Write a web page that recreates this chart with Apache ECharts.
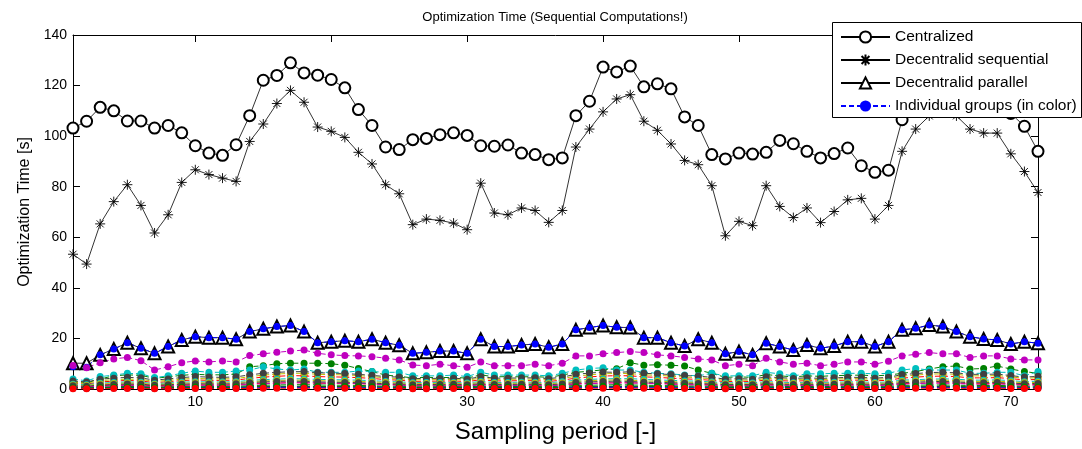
<!DOCTYPE html>
<html>
<head>
<meta charset="utf-8">
<script src="https://cdn.jsdelivr.net/npm/echarts@6/dist/echarts.min.js"></script>
<style>
  html, body { margin: 0; padding: 0; background: #fff; }
  #chart { width: 1082px; height: 449px; }
</style>
</head>
<body>
<div id="chart"></div>
<script>
// sampling periods (x axis)
const periods = [1, 2, 3, 4, 5, 6, 7, 8, 9, 10, 11, 12, 13, 14, 15, 16, 17, 18, 19, 20, 21, 22, 23, 24, 25, 26, 27, 28, 29, 30, 31, 32, 33, 34, 35, 36,
  37, 38, 39, 40, 41, 42, 43, 44, 45, 46, 47, 48, 49, 50, 51, 52, 53, 54, 55, 56, 57, 58, 59, 60, 61, 62, 63, 64, 65, 66, 67, 68, 69, 70, 71, 72]
const xTicks = [10, 20, 30, 40, 50, 60, 70]

const centralized = [103.2, 105.9, 111.4, 110.0, 106.0, 106.0, 103.2, 104.2, 101.3, 96.2, 93.3, 92.4, 96.6, 108.1, 122.1, 124.0, 129.0, 125.0, 124.1, 122.4, 119.1, 110.5, 104.2, 95.7, 94.7,
  98.6, 99.1, 100.6, 101.3, 100.3, 96.2, 96.0, 96.5, 93.3, 92.7, 90.7, 91.4, 108.1, 113.8, 127.3, 125.4, 127.7, 119.5, 120.7, 118.7, 107.6, 104.2, 92.7, 91.0,
  93.3, 92.9, 93.6, 98.3, 97.0, 94.0, 91.4, 93.1, 95.3, 88.3, 85.7, 86.5, 106.5, 116.0, 121.0, 126.0, 124.0, 121.0, 117.0, 116.0, 109.0, 103.9, 94.0]

const sequential = [53.3, 49.4, 65.3, 74.1, 80.8, 72.6, 61.7, 68.9, 81.7, 86.7, 84.8, 83.4, 82.1, 97.9, 104.8, 112.9, 118.1, 113.4, 103.6, 101.9, 99.5, 93.6, 89.0, 80.8, 77.2,
  65.0, 67.2, 66.7, 65.6, 63.0, 81.4, 69.6, 68.9, 71.6, 70.6, 65.9, 70.6, 95.7, 102.8, 109.6, 114.7, 116.4, 105.9, 102.3, 96.9, 90.4, 88.7, 80.4, 60.6,
  66.3, 64.6, 80.4, 72.2, 67.8, 71.6, 65.8, 70.2, 74.8, 75.4, 67.2, 72.6, 94.0, 102.8, 108.0, 110.0, 108.0, 102.8, 101.2, 101.2, 93.0, 86.0, 77.7]

const parallel = [10.2, 10.2, 13.5, 15.8, 18.3, 16.1, 14.1, 16.8, 19.4, 20.7, 20.3, 20.3, 19.7, 22.7, 23.8, 24.7, 25.1, 22.7, 18.3, 18.7, 19.1, 18.7, 19.7, 18.3, 17.3,
  14.1, 14.5, 15.0, 15.0, 14.1, 19.7, 16.8, 16.8, 17.4, 17.8, 16.5, 17.8, 23.4, 24.3, 25.1, 24.4, 24.3, 20.3, 20.3, 18.3, 17.0, 19.7, 18.3, 13.9,
  14.8, 13.5, 18.1, 16.8, 15.4, 17.4, 16.1, 17.0, 18.7, 18.7, 16.8, 18.7, 23.4, 24.0, 25.3, 24.7, 22.7, 20.7, 19.8, 19.4, 17.8, 18.7, 18.1]

// individual groups, drawn in the MATLAB colour order b g r c m y k
const blueA = [8.8, 8.6, 13.5, 15.8, 18.3, 16.1, 14.1, 16.8, 19.4, 20.7, 20.3, 20.3, 19.7, 22.7, 23.8, 24.7, 25.1, 22.7, 18.3, 18.7, 19.1, 18.7, 19.7, 18.3, 17.3,
  14.1, 14.5, 15.0, 15.0, 14.1, 19.7, 16.8, 16.8, 17.4, 17.8, 16.5, 17.8, 23.4, 24.3, 25.1, 24.4, 24.3, 20.3, 20.3, 18.3, 17.0, 19.7, 18.3, 13.9,
  14.8, 13.5, 18.1, 16.8, 15.4, 17.4, 16.1, 17.0, 18.7, 18.7, 16.8, 18.7, 23.4, 24.0, 25.3, 24.7, 22.7, 20.7, 19.8, 19.4, 17.8, 18.7, 18.1]
const greenA = [2.8, 2.4, 4.0, 5.2, 5.6, 5.4, 4.2, 4.8, 5.4, 5.8, 5.6, 5.6, 5.9,
  8.8, 9.2, 10.0, 10.2, 10.2, 10.2, 10.0, 9.4, 8.1, 6.9,
  5.5, 5.0, 4.4, 4.6, 4.5, 4.6, 4.3, 5.6, 4.8, 4.9, 4.8, 4.9, 4.6, 5.5,
  6.6, 7.0, 7.6, 8.0, 10.4, 9.4, 9.6, 9.4, 9.1, 7.5,
  6.2, 4.6, 4.8, 4.6, 5.7, 5.2, 4.8, 5.2, 5.0, 5.3, 5.4, 5.5, 5.2, 5.5,
  6.2, 6.9, 7.9, 8.8, 9.1, 7.9, 8.1, 9.1, 7.9, 6.9, 6.2]
const redA = [2.2, 1.9, 2.8, 3.1, 3.4, 3.2, 2.5, 2.9, 3.3, 3.6, 3.4, 3.4, 3.5,
  4.2, 4.7, 5.0, 5.3, 5.2, 4.9, 4.8, 4.7, 4.5, 4.2,
  3.7, 3.5, 3.0, 3.1, 3.1, 3.2, 2.9, 3.7, 3.2, 3.2, 3.3, 3.3, 3.0, 3.5,
  4.3, 4.8, 5.1, 5.3, 5.2, 4.8, 4.6, 4.3, 4.0, 3.8,
  3.4, 2.9, 3.1, 2.9, 3.6, 3.3, 3.1, 3.3, 3.1, 3.3, 3.5, 3.5, 3.2, 3.5,
  4.3, 4.7, 5.0, 5.1, 4.9, 4.4, 4.4, 4.5, 4.1, 3.6, 3.8]
const cyanA = [4.0, 3.2, 4.9, 5.5, 6.2, 6.0, 4.5, 5.2, 6.2, 7.1, 6.6, 6.6, 7.1, 7.5, 8.8, 7.9, 7.5, 7.9, 6.6, 6.6, 6.6, 7.1, 6.9, 6.6, 6.6,
  5.2, 5.2, 5.2, 5.5, 4.9, 6.6, 5.5, 5.5, 5.5, 5.5, 5.2, 6.2, 7.5, 8.1, 8.4, 7.5, 7.5, 6.6, 6.2, 6.0, 5.5, 5.2, 6.2, 5.2,
  5.2, 5.2, 6.6, 6.0, 5.2, 6.0, 6.0, 6.2, 6.2, 6.2, 6.0, 6.2, 7.5, 8.1, 7.5, 7.5, 7.5, 6.2, 6.2, 6.6, 6.6, 5.2, 6.9]
const magentaA = [9.3, 8.4, 10.4, 11.9, 12.5, 11.2, 7.5, 8.8, 10.4, 11.1, 10.7, 11.1, 10.7, 13.2, 13.9, 14.5, 15.0, 15.4, 14.1, 13.5, 13.2, 13.1, 12.8, 12.2, 11.5,
  9.5, 9.2, 9.8, 9.2, 8.6, 10.7, 9.2, 9.2, 9.2, 9.8, 9.2, 10.2, 13.1, 13.1, 13.9, 14.4, 14.8, 14.4, 13.5, 13.1, 12.5, 11.9, 11.5, 9.2,
  9.8, 9.2, 12.2, 10.7, 9.8, 10.2, 9.2, 9.8, 10.7, 10.7, 9.8, 11.0, 13.1, 13.7, 14.4, 13.9, 13.9, 12.5, 13.1, 13.1, 11.9, 11.5, 11.5]
const yellowA = [2.6, 2.3, 3.3, 3.7, 3.9, 3.8, 3.0, 3.4, 3.9, 4.2, 4.0, 4.0, 4.1,
  4.9, 5.5, 5.9, 6.2, 6.2, 5.8, 5.7, 5.6, 5.3, 4.9,
  4.4, 4.1, 3.6, 3.7, 3.7, 3.8, 3.4, 4.4, 3.8, 3.8, 3.9, 3.9, 3.6, 4.1,
  5.1, 5.6, 6.0, 6.2, 6.1, 5.6, 5.4, 5.1, 4.7, 4.5,
  4.0, 3.4, 3.6, 3.4, 4.2, 4.0, 3.7, 3.9, 3.7, 3.9, 4.1, 4.1, 3.8, 4.1,
  5.1, 5.5, 5.9, 6.0, 5.8, 5.2, 5.2, 5.3, 4.8, 4.2, 4.5]
const grayA = [3.2, 2.8, 3.9, 4.3, 4.6, 4.4, 3.5, 4.0, 4.5, 4.9, 4.7, 4.6, 4.8,
  5.6, 6.2, 6.6, 6.8, 6.9, 6.4, 6.3, 6.1, 5.8, 5.4,
  4.9, 4.7, 4.1, 4.2, 4.2, 4.3, 3.9, 4.9, 4.3, 4.3, 4.4, 4.4, 4.1, 4.7,
  5.8, 6.3, 6.7, 6.6, 6.8, 6.2, 6.0, 5.7, 5.3, 5.1,
  4.6, 3.9, 4.1, 3.9, 4.8, 4.5, 4.2, 4.4, 4.2, 4.4, 4.6, 4.6, 4.3, 4.6,
  5.7, 6.1, 6.5, 6.6, 6.4, 5.8, 5.8, 5.9, 5.3, 4.7, 5.0]
const blueB = [0.5, 0.4, 0.5, 0.6, 0.6, 0.6, 0.5, 0.5, 0.6, 0.6, 0.6, 0.6, 0.6,
  0.8, 0.9, 0.9, 1.0, 1.0, 0.9, 0.9, 0.9, 0.8, 0.8,
  0.7, 0.6, 0.5, 0.5, 0.5, 0.6, 0.5, 0.7, 0.6, 0.6, 0.6, 0.6, 0.5, 0.6,
  0.8, 0.9, 0.9, 1.0, 1.0, 0.9, 0.8, 0.8, 0.7, 0.7,
  0.6, 0.5, 0.6, 0.5, 0.7, 0.6, 0.6, 0.6, 0.6, 0.6, 0.6, 0.6, 0.6, 0.6,
  0.8, 0.9, 0.9, 1.0, 0.9, 0.8, 0.8, 0.8, 0.8, 0.6, 0.7]
const greenB = [0.7, 0.6, 0.8, 0.9, 1.0, 1.0, 0.8, 0.9, 1.0, 1.1, 1.0, 1.0, 1.1,
  1.3, 1.5, 1.6, 1.7, 1.7, 1.6, 1.5, 1.5, 1.4, 1.3,
  1.1, 1.1, 0.9, 0.9, 0.9, 1.0, 0.9, 1.1, 1.0, 1.0, 1.0, 1.0, 0.9, 1.1,
  1.4, 1.5, 1.6, 1.7, 1.6, 1.5, 1.4, 1.3, 1.2, 1.2,
  1.1, 0.9, 1.0, 0.9, 1.2, 1.0, 1.0, 1.0, 1.0, 1.0, 1.1, 1.1, 1.0, 1.1,
  1.4, 1.5, 1.6, 1.6, 1.5, 1.4, 1.4, 1.4, 1.3, 1.1, 1.2]
const redB = [1.1, 0.9, 1.3, 1.5, 1.7, 1.6, 1.2, 1.4, 1.6, 1.7, 1.6, 1.6, 1.7,
  2.0, 2.3, 2.4, 2.5, 2.5, 2.3, 2.2, 2.2, 2.1, 1.9,
  1.8, 1.7, 1.4, 1.5, 1.5, 1.5, 1.4, 1.8, 1.5, 1.5, 1.6, 1.6, 1.4, 1.7,
  2.1, 2.3, 2.4, 2.5, 2.5, 2.3, 2.2, 2.1, 1.9, 1.8,
  1.7, 1.4, 1.5, 1.4, 1.8, 1.6, 1.5, 1.6, 1.5, 1.6, 1.7, 1.7, 1.5, 1.7,
  2.1, 2.3, 2.4, 2.5, 2.4, 2.1, 2.1, 2.2, 2.0, 1.7, 1.8]
const cyanB = [1.9, 1.7, 2.3, 2.6, 2.8, 2.7, 2.1, 2.4, 2.7, 2.9, 2.8, 2.8, 2.9,
  3.4, 3.7, 3.9, 4.1, 4.0, 3.8, 3.7, 3.6, 3.5, 3.3,
  3.0, 2.8, 2.5, 2.6, 2.6, 2.6, 2.4, 3.0, 2.6, 2.6, 2.7, 2.7, 2.5, 2.9,
  3.5, 3.8, 4.0, 4.1, 4.1, 3.8, 3.6, 3.4, 3.2, 3.1,
  2.8, 2.4, 2.5, 2.4, 2.9, 2.7, 2.5, 2.7, 2.6, 2.7, 2.8, 2.8, 2.6, 2.8,
  3.5, 3.7, 3.9, 4.0, 3.9, 3.5, 3.5, 3.6, 3.3, 2.9, 3.1]
const magentaB = [0.9, 0.8, 1.1, 1.3, 1.4, 1.3, 1.0, 1.2, 1.4, 1.5, 1.4, 1.4, 1.5,
  1.8, 2.1, 2.3, 2.4, 2.5, 2.4, 2.3, 2.3, 2.2, 2.0,
  1.6, 1.5, 1.2, 1.3, 1.3, 1.3, 1.2, 1.6, 1.3, 1.3, 1.4, 1.4, 1.2, 1.5,
  1.9, 2.1, 2.3, 2.4, 2.4, 2.2, 2.1, 1.9, 1.7, 1.6,
  1.5, 1.2, 1.3, 1.2, 1.6, 1.4, 1.3, 1.4, 1.3, 1.4, 1.5, 1.5, 1.3, 1.5,
  1.9, 2.1, 2.3, 2.3, 2.2, 1.9, 1.9, 2.0, 1.8, 1.5, 1.6]
const yellowB = [1.6, 1.4, 2.0, 2.2, 2.4, 2.3, 1.8, 2.0, 2.3, 2.5, 2.4, 2.4, 2.5,
  2.9, 3.2, 3.4, 3.5, 3.5, 3.3, 3.2, 3.1, 3.0, 2.8,
  2.6, 2.4, 2.1, 2.2, 2.2, 2.3, 2.0, 2.6, 2.2, 2.2, 2.3, 2.3, 2.1, 2.4,
  3.0, 3.3, 3.5, 3.6, 3.5, 3.2, 3.1, 2.9, 2.7, 2.6,
  2.4, 2.0, 2.1, 2.0, 2.5, 2.3, 2.2, 2.3, 2.2, 2.3, 2.4, 2.4, 2.2, 2.4,
  3.0, 3.2, 3.4, 3.5, 3.3, 3.0, 3.0, 3.1, 2.8, 2.5, 2.6]
const grayB = [1.3, 1.1, 1.6, 1.8, 2.0, 1.9, 1.5, 1.7, 1.9, 2.1, 2.0, 2.0, 2.1,
  2.5, 2.8, 3.0, 3.1, 3.0, 2.8, 2.7, 2.6, 2.5, 2.3,
  2.1, 2.0, 1.7, 1.8, 1.8, 1.9, 1.7, 2.1, 1.8, 1.8, 1.9, 1.9, 1.7, 2.0,
  2.6, 2.8, 3.0, 3.1, 3.0, 2.7, 2.6, 2.5, 2.3, 2.2,
  2.0, 1.7, 1.8, 1.7, 2.1, 1.9, 1.8, 1.9, 1.8, 1.9, 2.0, 2.0, 1.8, 2.0,
  2.5, 2.7, 2.9, 3.0, 2.8, 2.5, 2.5, 2.6, 2.3, 2.1, 2.2]
const blueC = [0.3, 0.3, 0.3, 0.4, 0.4, 0.4, 0.3, 0.3, 0.4, 0.4, 0.4, 0.4, 0.4,
  0.5, 0.5, 0.6, 0.6, 0.6, 0.6, 0.5, 0.5, 0.5, 0.5,
  0.4, 0.4, 0.3, 0.3, 0.3, 0.4, 0.3, 0.4, 0.4, 0.4, 0.4, 0.4, 0.3, 0.4,
  0.5, 0.6, 0.6, 0.6, 0.6, 0.5, 0.5, 0.5, 0.5, 0.4,
  0.4, 0.3, 0.4, 0.3, 0.4, 0.4, 0.4, 0.4, 0.4, 0.4, 0.4, 0.4, 0.4, 0.4,
  0.5, 0.6, 0.6, 0.6, 0.6, 0.5, 0.5, 0.5, 0.5, 0.4, 0.4]
const greenC = [0.5, 0.4, 0.6, 0.7, 0.7, 0.7, 0.6, 0.6, 0.7, 0.8, 0.7, 0.7, 0.8,
  0.9, 1.0, 1.1, 1.1, 1.1, 1.0, 1.0, 1.0, 0.9, 0.9,
  0.8, 0.7, 0.6, 0.7, 0.7, 0.7, 0.6, 0.8, 0.7, 0.7, 0.7, 0.7, 0.6, 0.7,
  0.9, 1.0, 1.1, 1.1, 1.1, 1.0, 1.0, 0.9, 0.9, 0.8,
  0.8, 0.6, 0.7, 0.6, 0.8, 0.7, 0.7, 0.7, 0.7, 0.7, 0.8, 0.8, 0.7, 0.8,
  0.9, 1.0, 1.1, 1.1, 1.0, 0.9, 0.9, 1.0, 0.9, 0.8, 0.8]
const redC = [0.1, 0.1, 0.1, 0.2, 0.2, 0.2, 0.1, 0.1, 0.2, 0.2, 0.2, 0.2, 0.2,
  0.2, 0.3, 0.3, 0.3, 0.3, 0.3, 0.3, 0.3, 0.2, 0.2,
  0.2, 0.2, 0.1, 0.1, 0.1, 0.2, 0.1, 0.2, 0.2, 0.2, 0.2, 0.2, 0.1, 0.2,
  0.2, 0.3, 0.3, 0.3, 0.3, 0.3, 0.2, 0.2, 0.2, 0.2,
  0.2, 0.1, 0.2, 0.1, 0.2, 0.2, 0.2, 0.2, 0.2, 0.2, 0.2, 0.2, 0.2, 0.2,
  0.2, 0.3, 0.3, 0.3, 0.3, 0.2, 0.2, 0.3, 0.2, 0.2, 0.2]

const groups = [blueA, greenA, redA, cyanA, magentaA, yellowA, grayA,
  blueB, greenB, redB, cyanB, magentaB, yellowB, grayB, blueC, greenC, redC]
const groupColors = ['#0000ff', '#008000', '#ff0000', '#00bfbf', '#bf00bf', '#bfbf00', '#404040']

const FONT = 'Liberation Sans, Arial, sans-serif'
const asterisk = 'path://M5,0L5,10M0,5L10,5M1.5,1.5L8.5,8.5M1.5,8.5L8.5,1.5'

function toPoints (vals) {
  return vals.map((v, i) => [periods[i], v])
}

const chart = echarts.init(document.getElementById('chart'))

const series = [
  {
    name: 'Centralized',
    type: 'line',
    data: toPoints(centralized),
    symbol: 'emptyCircle',
    symbolSize: 11,
    lineStyle: { color: '#000', width: 0.8 },
    itemStyle: { color: '#000', borderWidth: 0.7 },
    clip: false
  },
  {
    name: 'Decentralid sequential',
    type: 'line',
    data: toPoints(sequential),
    symbol: asterisk,
    symbolSize: 10,
    lineStyle: { color: '#000', width: 0.8 },
    itemStyle: { color: '#000', borderColor: '#000', borderWidth: 0.9 },
    clip: false
  },
  {
    name: 'Decentralid parallel',
    type: 'line',
    data: toPoints(parallel),
    symbol: 'emptyTriangle',
    symbolSize: 12,
    lineStyle: { color: '#000', width: 0.8 },
    itemStyle: { color: '#000', borderWidth: 0.7 },
    clip: false
  }
]

groups.forEach((g, i) => {
  const color = groupColors[i % groupColors.length]
  series.push({
    name: i === 0 ? 'Individual groups (in color)' : 'group ' + (i + 1),
    type: 'line',
    data: toPoints(g),
    symbol: 'circle',
    symbolSize: 7,
    lineStyle: { color: color, width: 1, type: [5, 3] },
    itemStyle: { color: color },
    clip: false
  })
})

const option = {
  animation: false,
  backgroundColor: '#fff',
  textStyle: { fontFamily: FONT },
  grid: { left: 73, right: 44, top: 35, bottom: 60 },
  graphic: [
    {
      type: 'text',
      x: 555,
      y: 17,
      z: 5,
      style: {
        text: 'Optimization Time (Sequential Computations!)',
        font: '13px ' + FONT,
        fill: '#000',
        textAlign: 'center',
        textVerticalAlign: 'middle'
      }
    },
    {
      type: 'rect',
      z: 50,
      shape: { x: 832.5, y: 22.5, width: 249, height: 95 },
      style: { fill: '#fff', stroke: '#000', lineWidth: 1 }
    }
  ],
  legend: {
    orient: 'vertical',
    left: 835,
    top: 24,
    z: 60,
    itemWidth: 49,
    itemHeight: 14,
    itemGap: 7,
    selectedMode: false,
    textStyle: { fontSize: 15.5, color: '#000', fontFamily: FONT },
    data: ['Centralized', 'Decentralid sequential', 'Decentralid parallel', 'Individual groups (in color)']
  },
  xAxis: [
    {
      type: 'value',
      min: 1,
      max: 72,
      name: 'Sampling period [-]',
      nameLocation: 'middle',
      nameGap: 31,
      nameTextStyle: { fontSize: 24, color: '#000', fontFamily: FONT },
      axisLine: { show: true, onZero: false, lineStyle: { color: '#000', width: 1 } },
      axisTick: { show: true, inside: true, length: 7, customValues: xTicks, lineStyle: { color: '#000' } },
      axisLabel: { customValues: xTicks, color: '#000', fontSize: 14, fontFamily: FONT, margin: 6 },
      splitLine: { show: false }
    },
    {
      type: 'value',
      position: 'top',
      min: 1,
      max: 72,
      axisLine: { show: true, onZero: false, lineStyle: { color: '#000', width: 1 } },
      axisTick: { show: true, inside: true, length: 7, customValues: xTicks, lineStyle: { color: '#000' } },
      axisLabel: { show: false },
      splitLine: { show: false }
    }
  ],
  yAxis: [
    {
      type: 'value',
      min: 0,
      max: 140,
      interval: 20,
      name: 'Optimization Time [s]',
      nameLocation: 'middle',
      nameGap: 40,
      nameTextStyle: { fontSize: 16, color: '#000', fontFamily: FONT },
      axisLine: { show: true, lineStyle: { color: '#000', width: 1 } },
      axisTick: { show: true, inside: true, length: 7, lineStyle: { color: '#000' } },
      axisLabel: { color: '#000', fontSize: 14, fontFamily: FONT, margin: 6 },
      splitLine: { show: false }
    },
    {
      type: 'value',
      position: 'right',
      min: 0,
      max: 140,
      interval: 20,
      axisLine: { show: true, lineStyle: { color: '#000', width: 1 } },
      axisTick: { show: true, inside: true, length: 7, lineStyle: { color: '#000' } },
      axisLabel: { show: false },
      splitLine: { show: false }
    }
  ],
  series: series
}

chart.setOption(option)
</script>
</body>
</html>
